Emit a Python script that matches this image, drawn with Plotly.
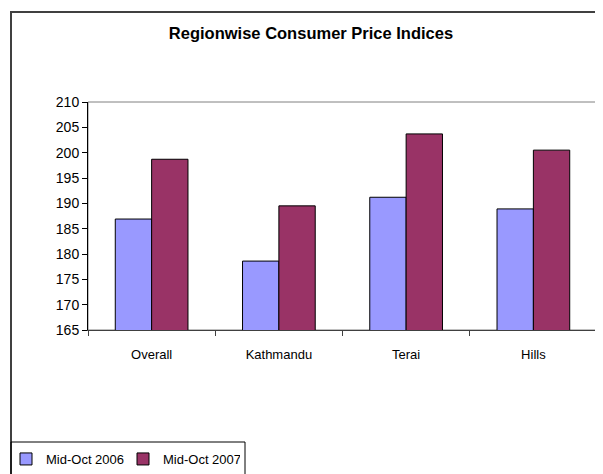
import plotly.graph_objects as go

# data
regions = ["Overall", "Kathmandu", "Terai", "Hills"]
oct_2006 = [186.9, 178.6, 191.2, 188.9]
oct_2007 = [198.7, 189.5, 203.7, 200.5]
series_names = ["Mid-Oct 2006", "Mid-Oct 2007"]
y_ticks = [165, 170, 175, 180, 185, 190, 195, 200, 205, 210]

FONT = "Liberation Sans, Arial, sans-serif"

fig = go.Figure()
fig.add_trace(go.Bar(x=regions, y=oct_2006, name=series_names[0],
                     marker=dict(color="#9999FF", line=dict(color="black", width=1))))
fig.add_trace(go.Bar(x=regions, y=oct_2007, name=series_names[1],
                     marker=dict(color="#993366", line=dict(color="black", width=1))))

# page puts the figure at (8, 8), so work in screen pixels and subtract that
OFF = 8
W, H = 603 - OFF, 474 - OFF
# plot area on screen: x 88..597, y 102..330
L, T = 88 - OFF, 102 - OFF
R, B = W - (597 - OFF), H - (330 - OFF)
pw, ph = W - L - R, H - T - B


def px(x):
    return (x - OFF - L) / pw


def py(y):
    return (H - B - (y - OFF)) / ph


shapes = [
    # grey plot area border
    dict(type="rect", xref="paper", yref="paper", x0=0, x1=1, y0=0, y1=1,
         line=dict(color="#808080", width=1), layer="below"),
    # outer chart border (runs off right/bottom)
    dict(type="rect", xref="paper", yref="paper", x0=px(11), x1=px(640), y0=py(12), y1=py(520),
         line=dict(color="#404040", width=2)),
    # legend box
    dict(type="rect", xref="paper", yref="paper", x0=px(11), x1=px(245), y0=py(442), y1=py(500),
         line=dict(color="black", width=1)),
]

fig.update_layout(
    width=W, height=H,
    margin=dict(l=L, r=R, t=T, b=B, autoexpand=False),
    paper_bgcolor="white", plot_bgcolor="white",
    font=dict(family=FONT, size=13, color="black"),
    title=dict(text="<b>Regionwise Consumer Price Indices</b>", x=(311 - OFF) / W, xanchor="center",
               y=1 - (33 - OFF) / H, yanchor="middle", font=dict(size=16.5)),
    barmode="group", bargap=0.4286, bargroupgap=0,
    showlegend=True,
    legend=dict(orientation="h", x=px(6), xanchor="left", y=py(459), yanchor="middle",
                bgcolor="rgba(0,0,0,0)", borderwidth=0, font=dict(size=13),
                itemwidth=30, entrywidth=72, traceorder="normal"),
    shapes=shapes,
)
fig.update_xaxes(showline=True, linecolor="#404040", linewidth=1, ticks="outside",
                 tickson="boundaries", ticklen=5, tickcolor="#404040", showgrid=False,
                 ticklabelstandoff=12)
fig.update_yaxes(range=[165, 210], tickvals=y_ticks, showline=True, linecolor="black",
                 linewidth=1, ticks="outside", ticklen=5, tickcolor="black",
                 showgrid=False, zeroline=False, tickfont=dict(size=14))

fig.write_html("out.html")
